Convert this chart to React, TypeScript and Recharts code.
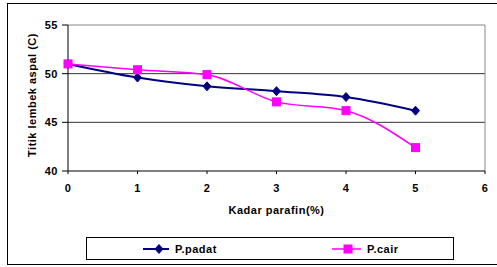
import React from 'react'
import {
  LineChart,
  Line,
  XAxis,
  YAxis,
  CartesianGrid,
  ReferenceLine,
} from 'recharts'

const kadar = [0, 1, 2, 3, 4, 5]
const padat = [51.0, 49.6, 48.7, 48.2, 47.6, 46.2]
const cair = [51.0, 50.4, 49.9, 47.1, 46.2, 42.4]
const xTicks = [0, 1, 2, 3, 4, 5, 6]
const yTicks = [40, 45, 50, 55]

const data = kadar.map((k, i) => ({ kadar: k, padat: padat[i], cair: cair[i] }))

const NAVY = '#000080'
const PINK = '#ff00ff'
const FONT = '"Liberation Sans", Arial, sans-serif'

const textStyle = {
  fontFamily: FONT,
  fontSize: 11,
  fontWeight: 700,
  letterSpacing: 0.5,
  fill: '#000',
}

const Diamond = ({ cx, cy }: any) => (
  <polygon
    points={`${cx},${cy - 4.5} ${cx + 4},${cy} ${cx},${cy + 4.5} ${cx - 4},${cy}`}
    fill={NAVY}
    stroke={NAVY}
  />
)

const Square = ({ cx, cy }: any) => (
  <rect x={cx - 4} y={cy - 4} width={8} height={8} fill={PINK} stroke={PINK} />
)

function LegendBox() {
  return (
    <div
      style={{
        position: 'absolute',
        left: 86,
        top: 237,
        width: 368,
        height: 23,
        boxSizing: 'border-box',
        border: '1px solid #000',
        background: '#fff',
      }}
    >
      <svg width={368} height={23} style={{ position: 'absolute', left: -1, top: -1 }}>
        <line x1={57} x2={83} y1={12} y2={12} stroke={NAVY} strokeWidth={2} />
        <Diamond cx={73} cy={12} />
        <text x={89} y={16} style={textStyle}>P.padat</text>
        <line x1={246} x2={275} y1={12} y2={12} stroke={PINK} strokeWidth={1.5} />
        <Square cx={262} cy={12} />
        <text x={281} y={16} style={textStyle}>P.cair</text>
      </svg>
    </div>
  )
}

export default function App() {
  return (
    <div style={{ position: 'absolute', left: 0, top: 0, width: 497, height: 267, background: '#fff' }}>
      <div
        style={{
          position: 'absolute',
          left: 7,
          top: 3,
          width: 500,
          height: 262,
          boxSizing: 'border-box',
          border: '1px solid #000',
        }}
      />
      <LineChart
        width={497}
        height={267}
        data={data}
        margin={{ top: 25, right: 12, left: 0, bottom: 66 }}
        style={{ position: 'absolute', left: 0, top: 0 }}
      >
        <CartesianGrid horizontal vertical={false} horizontalValues={[45, 50]} stroke="#333" />
        <ReferenceLine y={55} stroke="#888" />
        <ReferenceLine x={6} stroke="#888" />
        <XAxis
          dataKey="kadar"
          type="number"
          domain={[0, 6]}
          ticks={xTicks}
          interval={0}
          height={30}
          stroke="#000"
          tickSize={3}
          tickMargin={10}
          tick={textStyle}
          label={{
            content: (p: any) => {
              const vb = p.viewBox
              return (
                <text x={vb.x + vb.width / 2} y={vb.y + 43} textAnchor="middle" style={textStyle}>
                  Kadar parafin(%)
                </text>
              )
            },
          }}
        />
        <YAxis
          type="number"
          domain={[40, 55]}
          ticks={yTicks}
          interval={0}
          width={68}
          stroke="#000"
          tickSize={6}
          tickMargin={4}
          tick={textStyle}
          label={{
            content: (p: any) => {
              const vb = p.viewBox
              const x = vb.x + 36
              const y = vb.y + vb.height / 2 - 3
              return (
                <text x={x} y={y} transform={`rotate(-90 ${x} ${y})`} textAnchor="middle" style={textStyle}>
                  Titik lembek aspal (C)
                </text>
              )
            },
          }}
        />
        <Line
          type="monotone"
          dataKey="padat"
          stroke={NAVY}
          strokeWidth={2}
          dot={(p: any) => <Diamond key={`d${p.index}`} cx={p.cx} cy={p.cy} />}
          isAnimationActive={false}
        />
        <Line
          type="monotone"
          dataKey="cair"
          stroke={PINK}
          strokeWidth={1.5}
          dot={(p: any) => <Square key={`s${p.index}`} cx={p.cx} cy={p.cy} />}
          isAnimationActive={false}
        />
      </LineChart>
      <LegendBox />
    </div>
  )
}
